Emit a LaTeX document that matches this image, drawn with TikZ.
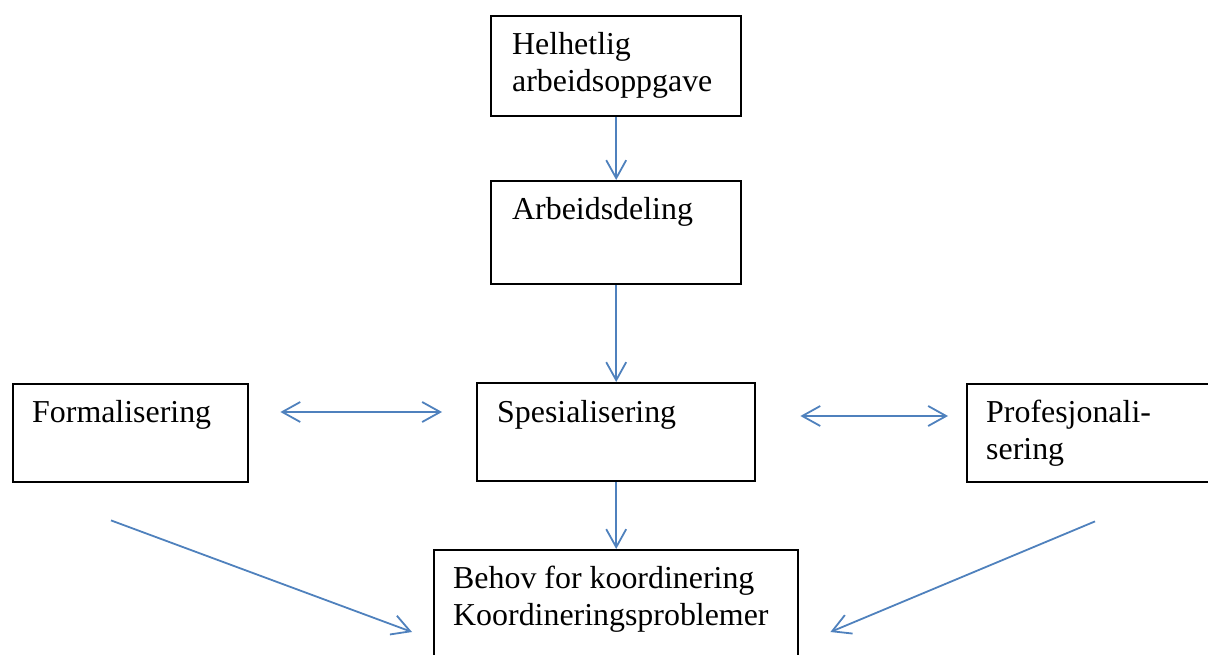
\documentclass[tikz,border=0pt]{standalone}
\usepackage{fontspec}
\setmainfont{Liberation Serif}
\usetikzlibrary{arrows.meta,positioning,calc}

\definecolor{arrowblue}{RGB}{79,129,189}

\tikzset{
  box/.style={draw, line width=2.4pt, anchor=north west, inner sep=0pt},
  txt/.style={anchor=base west, align=left, inner sep=0pt, font=\fontsize{31.9}{37}\selectfont},
  arr/.style={draw=arrowblue, line width=1.8pt, -{Straight Barb[length=18pt,width=20pt]}},
  dblarr/.style={arr, {Straight Barb[length=18pt,width=20pt]}-{Straight Barb[length=18pt,width=20pt]}},
}

\begin{document}
\begin{tikzpicture}[x=1pt, y=-1pt]
\useasboundingbox (0,0) rectangle (1208,655);
\clip (0,0) rectangle (1208,655);

% boxes
\node[box, minimum width=250, minimum height=100] (helhetlig) at (490,15) {};
\node[box, minimum width=250, minimum height=103] (arbeidsdeling) at (490,180) {};
\node[box, minimum width=235, minimum height=98] (formalisering) at (12,383) {};
\node[box, minimum width=278, minimum height=98] (spesialisering) at (476,382) {};
\node[box, minimum width=260, minimum height=98] (profesjonalisering) at (966,383) {};
\node[box, minimum width=364, minimum height=130] (behov) at (433,549) {};

% texts (base = last line)
\node[txt] (helhetlig-txt) at ([shift={(22,77)}]helhetlig.north west) {Helhetlig\\arbeidsoppgave};
\node[txt] (arbeidsdeling-txt) at ([shift={(22,40)}]arbeidsdeling.north west) {Arbeidsdeling};
\node[txt] (formalisering-txt) at ([shift={(20,39)}]formalisering.north west) {Formalisering};
\node[txt] (spesialisering-txt) at ([shift={(21,40)}]spesialisering.north west) {Spesialisering};
\node[txt] (profesjonalisering-txt) at ([shift={(20,76)}]profesjonalisering.north west) {Profesjonali-\\sering};
\node[txt] (behov-txt) at ([shift={(20,76)}]behov.north west) {Behov for koordinering\\Koordineringsproblemer};

% arrows
\draw[arr] (helhetlig) -- (arbeidsdeling);
\draw[arr] (arbeidsdeling) -- (spesialisering);
\draw[arr] (spesialisering) -- (behov);
\draw[dblarr] ([shift={(31,29)}]formalisering.north east) -- ([shift={(-34,30)}]spesialisering.north west);
\draw[dblarr] ([shift={(44,34)}]spesialisering.north east) -- ([shift={(-18,33)}]profesjonalisering.north west);
\draw[arr] ([shift={(99,37)}]formalisering.south west) -- ([shift={(-21,83)}]behov.north west);
\draw[arr] ([shift={(129,38)}]profesjonalisering.south west) -- ([shift={(31,83)}]behov.north east);
\end{tikzpicture}
\end{document}
